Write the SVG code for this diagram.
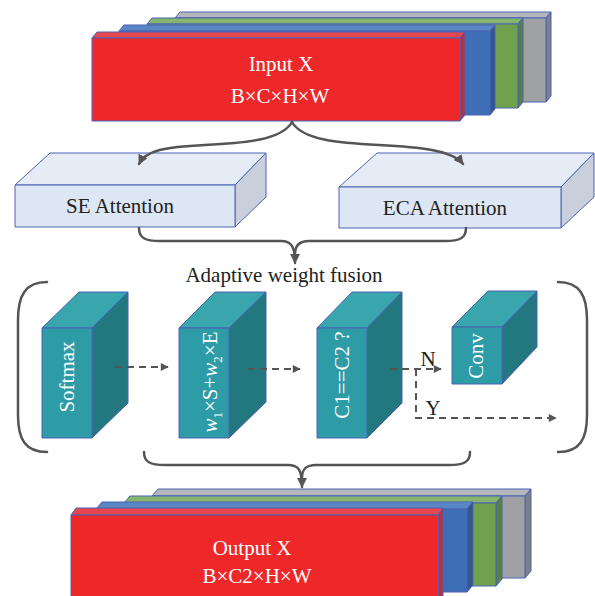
<svg xmlns="http://www.w3.org/2000/svg" width="595" height="596" viewBox="0 0 595 596">
<defs>
<style>
.lbl{font-family:"Liberation Serif","Times New Roman",serif;font-size:21px;}
.w{fill:#ffffff;}
.k{fill:#222222;}
.edge{stroke:#4a62b4;stroke-width:1;stroke-linejoin:round;}
.rf{fill:#ee2828;} .rt{fill:#e8464e;} .rs{fill:#bf2e3a;}
.bf{fill:#3e6eb6;} .bt{fill:#5a86c6;} .bs{fill:#34568e;}
.gf{fill:#6fa14f;} .gt{fill:#86b56c;} .gs{fill:#598241;}
.yf{fill:#a0a1a5;} .yt{fill:#b6b7ba;} .ys{fill:#7f8084;}
.lf{fill:#dde6f3;} .lt{fill:#e6ecf6;} .ls{fill:#c9d0dc;}
.tf{fill:#2e9ca6;} .tt{fill:#39a6ae;} .ts{fill:#23787f;}
.con{fill:none;stroke:#555555;stroke-width:2.5;stroke-linecap:round;}
.dash{fill:none;stroke:#555555;stroke-width:2;stroke-dasharray:7 5;}
</style>
<marker id="ah" viewBox="0 0 10 10" refX="9" refY="5" markerWidth="10" markerHeight="10" markerUnits="userSpaceOnUse" orient="auto">
<path d="M0,0 L10,5 L0,10 Z" fill="#555555"/>
</marker>
<marker id="ahs" viewBox="0 0 10 10" refX="9" refY="5" markerWidth="9" markerHeight="8" markerUnits="userSpaceOnUse" orient="auto">
<path d="M0,0 L10,5 L0,10 Z" fill="#555555"/>
</marker>
</defs>

<g id="input-x">
<g class="edge">
<polygon class="yt" points="175,18 180,12 551,12 546,18"/>
<polygon class="ys" points="546,18 551,12 551,96 546,102"/>
<rect class="yf" x="175" y="18" width="371" height="84"/>
<polygon class="gt" points="147,24 152,18 523,18 518,24"/>
<polygon class="gs" points="518,24 523,18 523,102 518,108"/>
<rect class="gf" x="147" y="24" width="371" height="84"/>
<polygon class="bt" points="119,31 124,25 495,25 490,31"/>
<polygon class="bs" points="490,31 495,25 495,109 490,115"/>
<rect class="bf" x="119" y="31" width="371" height="84"/>
<polygon class="rt" points="92,38 97,32 465,32 460,38"/>
<polygon class="rs" points="460,38 465,32 465,115 460,121"/>
<rect class="rf" x="92" y="38" width="368" height="83"/>
</g>
<text class="lbl w" x="281" y="71" text-anchor="middle">Input X</text>
<text class="lbl w" x="280" y="103" text-anchor="middle">B×C×H×W</text>
</g>

<g id="se-attention">
<g class="edge">
<polygon class="lt" points="15,185 50,153 266,153 235,185"/>
<polygon class="ls" points="235,185 266,153 266,197 235,227"/>
<rect class="lf" x="15" y="185" width="220" height="42"/>
</g>
<text class="lbl k" x="120" y="213" text-anchor="middle">SE Attention</text>
</g>

<g id="eca-attention">
<g class="edge">
<polygon class="lt" points="339,187 377,153 594,153 561,187"/>
<polygon class="ls" points="561,187 594,153 594,197 561,228"/>
<rect class="lf" x="339" y="187" width="222" height="41"/>
</g>
<text class="lbl k" x="445" y="215" text-anchor="middle">ECA Attention</text>
</g>

<g id="fusion-label">
<text class="lbl k" x="284" y="282" text-anchor="middle">Adaptive weight fusion</text>
</g>

<g id="softmax">
<g class="edge">
<polygon class="tt" points="42,328 79,292 128,292 92,328"/>
<polygon class="ts" points="92,328 128,292 128,403 92,438"/>
<rect class="tf" x="42" y="328" width="50" height="110"/>
</g>
<text class="lbl w" transform="translate(74,377) rotate(-90)" text-anchor="middle">Softmax</text>
</g>

<g id="weighted-sum">
<g class="edge">
<polygon class="tt" points="179,328 215,292 266,292 229,328"/>
<polygon class="ts" points="229,328 266,292 266,402 229,438"/>
<rect class="tf" x="179" y="328" width="50" height="110"/>
</g>
<text class="lbl w" transform="translate(217,382) rotate(-90)" text-anchor="middle"><tspan font-style="italic">w</tspan><tspan font-size="13" dy="5">1</tspan><tspan dy="-5">×S+</tspan><tspan font-style="italic">w</tspan><tspan font-size="13" dy="5">2</tspan><tspan dy="-5">×E</tspan></text>
</g>

<g id="channel-check">
<g class="edge">
<polygon class="tt" points="317,328 352,292 402,292 367,328"/>
<polygon class="ts" points="367,328 402,292 402,403 367,438"/>
<rect class="tf" x="317" y="328" width="50" height="110"/>
</g>
<text class="lbl w" transform="translate(349,375) rotate(-90)" text-anchor="middle">C1==C2 ?</text>
</g>

<g id="conv">
<g class="edge">
<polygon class="tt" points="452,327 488,291 537,291 502,327"/>
<polygon class="ts" points="502,327 537,291 537,347 502,384"/>
<rect class="tf" x="452" y="327" width="50" height="57"/>
</g>
<text class="lbl w" transform="translate(483,356) rotate(-90)" text-anchor="middle">Conv</text>
</g>

<g id="output-x">
<g class="edge">
<polygon class="yt" points="152,496 158,489 531,489 525,496"/>
<polygon class="ys" points="525,496 531,489 531,571 525,578"/>
<rect class="yf" x="152" y="496" width="373" height="82"/>
<polygon class="gt" points="124,503 130,496 502,496 496,503"/>
<polygon class="gs" points="496,503 502,496 502,579 496,586"/>
<rect class="gf" x="124" y="503" width="372" height="83"/>
<polygon class="bt" points="96,509 102,502 473,502 467,509"/>
<polygon class="bs" points="467,509 473,502 473,585 467,592"/>
<rect class="bf" x="96" y="509" width="371" height="83"/>
<polygon class="rt" points="71,515 76,508 443,508 438,515"/>
<polygon class="rs" points="438,515 443,508 443,600 438,600"/>
<rect class="rf" x="71" y="515" width="367" height="90"/>
</g>
<text class="lbl w" x="252" y="555" text-anchor="middle">Output X</text>
<text class="lbl w" x="257" y="583" text-anchor="middle">B×C2×H×W</text>
</g>

<g id="connectors">
<path class="con" d="M292,122 C282,140 245,143 205,145 C165,147 146,150 139,164" marker-end="url(#ah)"/>
<path class="con" d="M292,122 C302,140 339,143 379,145 C419,147 452,150 463,164" marker-end="url(#ah)"/>
<path class="con" d="M139,228 C139,238 145,241 160,241 L281,241 C291,241 295,246 295,263" marker-end="url(#ah)"/>
<path class="con" d="M466,228 C466,238 460,241 445,241 L309,241 C299,241 295,246 295,254"/>
<path class="con" d="M47,282 C25,282 18,296 18,320 L18,415 C18,439 25,452 47,452"/>
<path class="con" d="M558,282 C580,282 587,296 587,320 L587,415 C587,439 580,452 558,452"/>
<path class="con" d="M144,452 C144,462 150,465 165,465 L288,465 C298,465 302,469 302,487" marker-end="url(#ah)"/>
<path class="con" d="M470,452 C470,462 464,465 449,465 L316,465 C306,465 302,469 302,478"/>
<path class="dash" d="M115,367 L168,367" marker-end="url(#ahs)"/>
<path class="dash" d="M248,369 L300,369" marker-end="url(#ahs)"/>
<path class="dash" d="M390,369 L441,369" marker-end="url(#ahs)"/>
<path class="dash" d="M416,369 L416,418 L556,418" marker-end="url(#ahs)"/>
<text class="lbl k" x="428" y="366" text-anchor="middle" font-size="19">N</text>
<text class="lbl k" x="433" y="415" text-anchor="middle" font-size="19">Y</text>
</g>
</svg>
